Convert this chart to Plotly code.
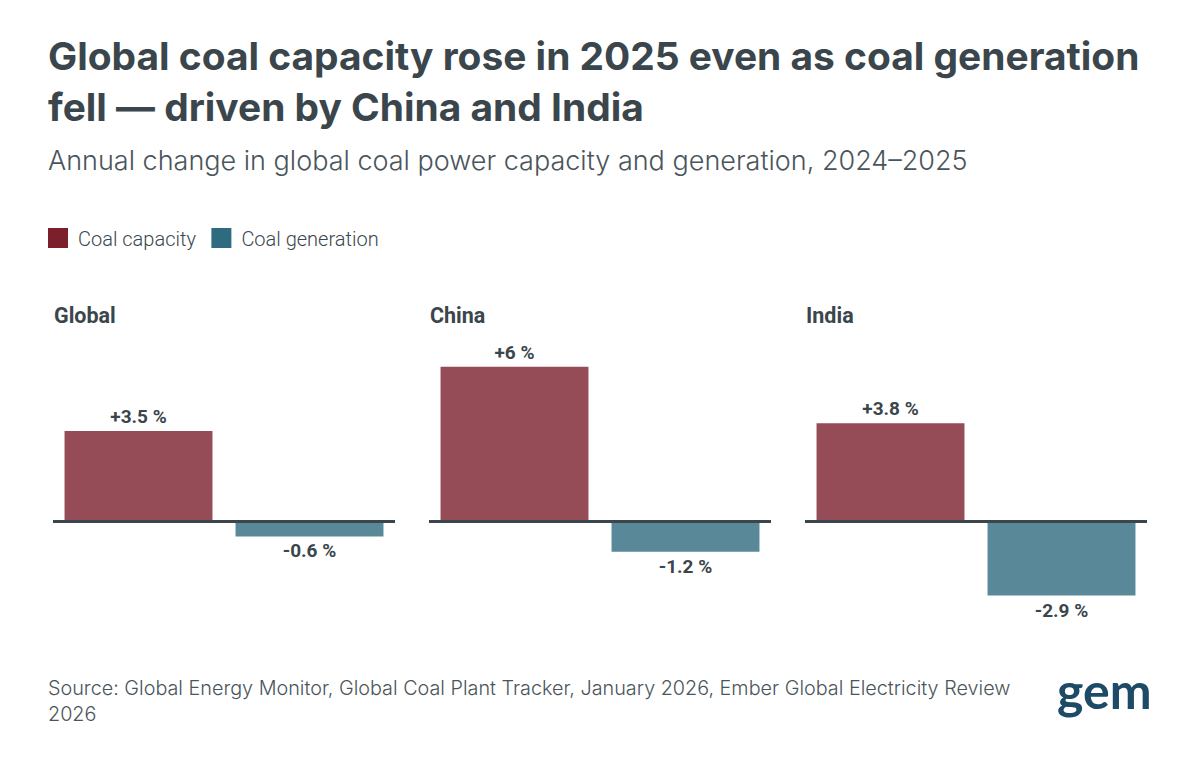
import plotly.graph_objects as go

regions = ["Global", "China", "India"]
series = ["Coal capacity", "Coal generation"]
capacity_change = [3.5, 6.0, 3.8]
generation_change = [-0.6, -1.2, -2.9]

# page has an 8px body margin; figure is sized so it fits the 1200x761 window
OFF = 8
W, H = 1200 - OFF, 761 - OFF
cap_color = "#7b1f2c"
gen_color = "#2f6b80"
dark = "#3a464c"


def px_x(x):
    return (x - OFF) / W


def px_y(y):
    return (H - (y - OFF)) / H


fig = go.Figure()

panels_px = [(53, 395), (429, 771), (805, 1147)]
y_top_px, y_bot_px = 315.4, 623.8

for i, region in enumerate(regions):
    ax = "" if i == 0 else str(i + 1)
    vals = [capacity_change[i], generation_change[i]]
    fig.add_trace(go.Bar(
        x=series, y=vals,
        marker=dict(color=[cap_color, gen_color], opacity=0.8, line=dict(width=0)),
        width=0.865,
        text=[f"{v:+g} %" for v in vals],
        textposition="outside",
        textfont=dict(family="Roboto", size=19, color=dark, weight="bold"),
        cliponaxis=False,
        showlegend=False,
        hoverinfo="skip",
        xaxis="x" + ax, yaxis="y" + ax,
    ))
    l, r = panels_px[i]
    fig.layout["xaxis" + ax] = dict(
        domain=[px_x(l), px_x(r)], range=[-0.5, 1.5], type="category",
        showticklabels=False, showgrid=False, zeroline=False, showline=False,
        anchor="y" + ax, fixedrange=True,
    )
    fig.layout["yaxis" + ax] = dict(
        domain=[px_y(y_bot_px), px_y(y_top_px)], range=[-4, 8],
        showticklabels=False, showgrid=False, zeroline=True,
        zerolinecolor=dark, zerolinewidth=3, zerolinelayer="above traces",
        anchor="x" + ax, fixedrange=True,
    )
    fig.add_annotation(
        text=f"<b>{region}</b>", x=px_x(l - 1), y=px_y(315),
        xref="paper", yref="paper", xanchor="left", yanchor="middle",
        showarrow=False, font=dict(family="Roboto", size=21.5, color=dark),
    )

# legend entries
for name, col in zip(series, [cap_color, gen_color]):
    fig.add_trace(go.Scatter(
        x=[None], y=[None], mode="markers", name=name,
        marker=dict(symbol="square", size=16, color=col, line=dict(color=col, width=4)),
        showlegend=True, hoverinfo="skip",
    ))

fig.update_layout(
    width=W, height=H,
    margin=dict(l=0, r=0, t=0, b=0),
    paper_bgcolor="white", plot_bgcolor="white",
    showlegend=True,
    legend=dict(
        orientation="h", x=px_x(38), y=px_y(238), xanchor="left", yanchor="middle",
        font=dict(family="Roboto", size=20, color=dark, weight=300),
        itemwidth=30, tracegroupgap=0, bgcolor="rgba(0,0,0,0)",
    ),
)

fig.add_annotation(
    text="<b>Global coal capacity rose in 2025 even as coal generation<br>fell — driven by China and India</b>",
    x=px_x(46), y=px_y(30), xref="paper", yref="paper",
    xanchor="left", yanchor="top", align="left", showarrow=False,
    font=dict(family="Inter", size=38.9, color=dark),
)
fig.add_annotation(
    text="Annual change in global coal power capacity and generation, 2024–2025",
    x=px_x(46), y=px_y(160), xref="paper", yref="paper",
    xanchor="left", yanchor="middle", showarrow=False,
    font=dict(family="Inter", size=27, color="#4a555b", weight=300),
)
fig.add_annotation(
    text="Source: Global Energy Monitor, Global Coal Plant Tracker, January 2026, Ember Global Electricity Review<br>2026",
    x=px_x(46), y=px_y(674), xref="paper", yref="paper",
    xanchor="left", yanchor="top", align="left", showarrow=False,
    font=dict(family="Inter", size=19.8, color="#4a555b", weight=300),
)
fig.add_annotation(
    text="<b>gem</b>", x=px_x(1154), y=px_y(690), xref="paper", yref="paper",
    xanchor="right", yanchor="middle", showarrow=False,
    font=dict(family="Lato", size=50, color="#1d4a66", weight=900),
)

fig.write_html("out.html")
